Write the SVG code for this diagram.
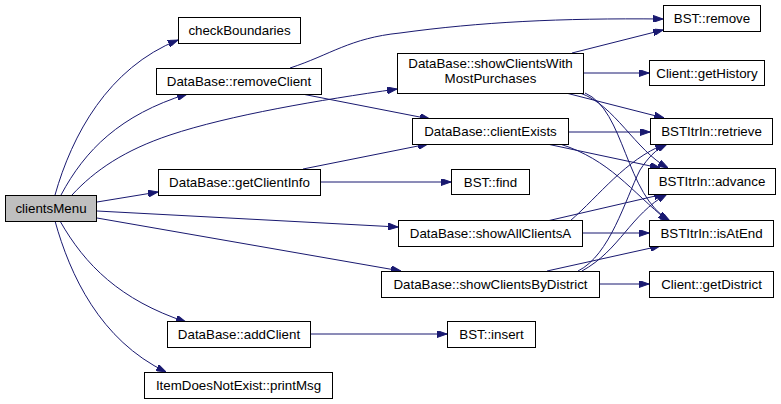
<svg xmlns="http://www.w3.org/2000/svg" width="781" height="404" viewBox="0 0 781 404">
<defs>
<style>
.node rect{fill:#ffffff;stroke:#000000;stroke-width:1}
.node.root rect{fill:#bfbfbf}
.node text{font-family:"Liberation Sans",Arial,sans-serif;font-size:13.33px;fill:#000000;text-anchor:middle}
.edges path{fill:none;stroke:#191970;stroke-width:1;marker-end:url(#arrow)}
</style>
<marker id="arrow" viewBox="0 0 10 7" refX="10" refY="3.5" markerWidth="10" markerHeight="7" markerUnits="userSpaceOnUse" orient="auto">
<path d="M0,0 L10,3.5 L0,7 z" fill="#191970" stroke="#191970" stroke-width="1"/>
</marker>
</defs>
<rect x="0" y="0" width="781" height="404" fill="#ffffff"/>
<g class="edges" id="edges">
<path d="M55,195 C72,135 108,68 178,40"/>
<path d="M61,195 C85,150 120,115 187,94"/>
<path d="M72,195 C95,170 125,150 170,135 C230,115 320,100 397,89"/>
<path d="M97,202 L158,192"/>
<path d="M97,211 L398,227"/>
<path d="M97,218 L401,271"/>
<path d="M60,221 C85,265 120,300 186,322"/>
<path d="M55,221 C70,275 100,340 166,372"/>
<path d="M290,68 C330,55 350,38 400,33 C480,22 560,18 663,19"/>
<path d="M302,94 L430,119"/>
<path d="M303,169 L428,144"/>
<path d="M321,182 L451,182"/>
<path d="M310,334 L447,334"/>
<path d="M572,53 L663,30"/>
<path d="M584,73 L649,73"/>
<path d="M566,93 L664,118"/>
<path d="M580,93 C615,105 635,150 668,168"/>
<path d="M585,93 C625,110 625,195 670,221"/>
<path d="M569,132 L650,132"/>
<path d="M547,144 L660,168"/>
<path d="M560,144 C610,160 630,190 668,221"/>
<path d="M570,221 C600,195 625,160 665,144"/>
<path d="M547,221 L664,194"/>
<path d="M583,233 L649,233"/>
<path d="M578,271 C610,255 625,200 640,170 C648,158 655,150 667,144"/>
<path d="M582,271 C620,250 630,215 667,194"/>
<path d="M547,271 L660,246"/>
<path d="M600,284 L649,284"/>
</g>
<g class="node root" id="clientsMenu"><rect x="5.5" y="195.5" width="91" height="26"/><text x="51" y="213">clientsMenu</text></g>
<g class="node" id="checkBoundaries"><rect x="178.5" y="17.5" width="122" height="26"/><text x="239.5" y="35">checkBoundaries</text></g>
<g class="node" id="removeClient"><rect x="156.5" y="68.5" width="165" height="26"/><text x="239" y="86">DataBase::removeClient</text></g>
<g class="node" id="getClientInfo"><rect x="158.5" y="169.5" width="162" height="26"/><text x="239.5" y="187">DataBase::getClientInfo</text></g>
<g class="node" id="showClientsWithMostPurchases"><rect x="397.5" y="53.5" width="186" height="40"/><text x="490.5" y="68">DataBase::showClientsWith</text><text x="490.5" y="83">MostPurchases</text></g>
<g class="node" id="bstRemove"><rect x="663.5" y="5.5" width="97" height="26"/><text x="712" y="23">BST::remove</text></g>
<g class="node" id="getHistory"><rect x="649.5" y="60.5" width="115" height="25"/><text x="707" y="78">Client::getHistory</text></g>
<g class="node" id="clientExists"><rect x="412.5" y="118.5" width="156" height="26"/><text x="490.5" y="136">DataBase::clientExists</text></g>
<g class="node" id="retrieve"><rect x="650.5" y="118.5" width="122" height="26"/><text x="711.5" y="136">BSTItrIn::retrieve</text></g>
<g class="node" id="bstFind"><rect x="451.5" y="169.5" width="78" height="25"/><text x="490.5" y="187">BST::find</text></g>
<g class="node" id="advance"><rect x="648.5" y="168.5" width="127" height="26"/><text x="712" y="186">BSTItrIn::advance</text></g>
<g class="node" id="showAllClientsA"><rect x="398.5" y="220.5" width="184" height="26"/><text x="490.5" y="238">DataBase::showAllClientsA</text></g>
<g class="node" id="isAtEnd"><rect x="649.5" y="220.5" width="124" height="26"/><text x="711.5" y="238">BSTItrIn::isAtEnd</text></g>
<g class="node" id="showClientsByDistrict"><rect x="381.5" y="271.5" width="218" height="26"/><text x="490.5" y="289">DataBase::showClientsByDistrict</text></g>
<g class="node" id="getDistrict"><rect x="649.5" y="271.5" width="124" height="26"/><text x="711.5" y="289">Client::getDistrict</text></g>
<g class="node" id="bstInsert"><rect x="447.5" y="321.5" width="88" height="26"/><text x="491.5" y="339">BST::insert</text></g>
<g class="node" id="addClient"><rect x="167.5" y="321.5" width="143" height="26"/><text x="239" y="339">DataBase::addClient</text></g>
<g class="node" id="printMsg"><rect x="144.5" y="372.5" width="188" height="26"/><text x="238.5" y="390">ItemDoesNotExist::printMsg</text></g>
</svg>
